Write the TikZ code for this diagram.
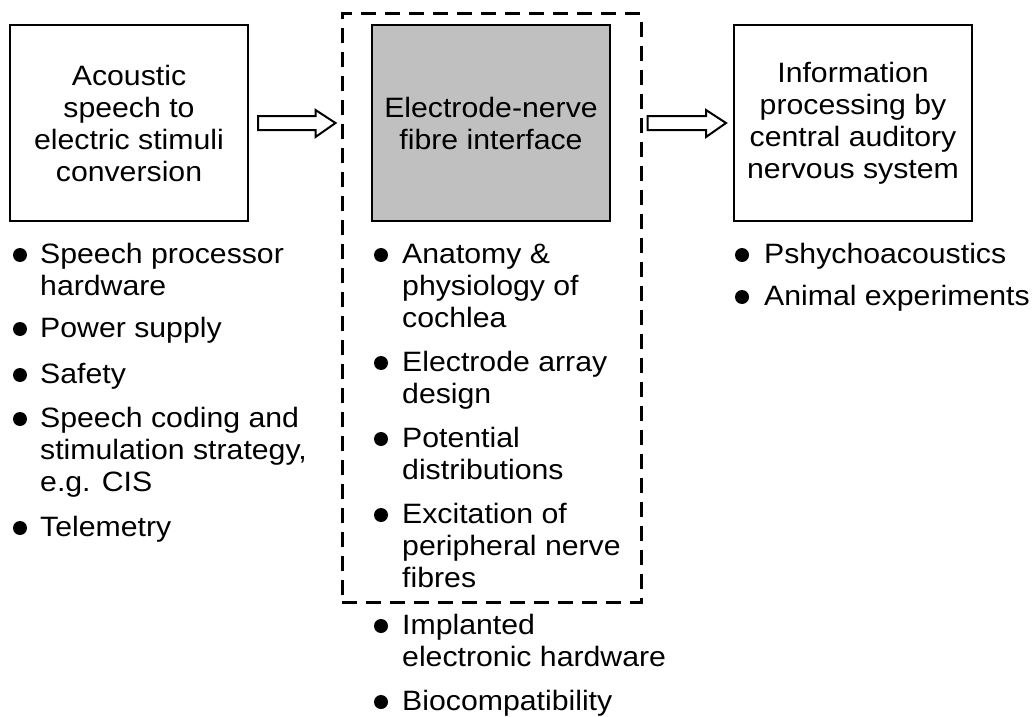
\documentclass[tikz,border=0pt]{standalone}
\usepackage{fontspec}
\setmainfont[FakeStretch=1.08]{Liberation Sans}
\usetikzlibrary{calc}
\begin{document}
\begin{tikzpicture}[x=1pt,y=-1pt,
  box/.style={draw, line width=2pt, minimum width=238pt, minimum height=196pt,
    align=center, inner sep=0pt, font=\fontsize{28}{32}\selectfont},
  item/.style={anchor=base west, align=left, inner sep=0pt,
    font=\fontsize{28}{32}\selectfont},
  dot/.style={fill=black},
  blockarrow/.style={draw, fill=white, line width=2pt, line join=miter}
]
\useasboundingbox (0,0) rectangle (1034,717);

% main boxes
\node[box] (conv) at (129,123) {Acoustic\\speech to\\electric stimuli\\conversion};
\node[box, fill={rgb,255:red,192;green,192;blue,192}] (iface) at (491,123) {Electrode-nerve\\fibre interface};
\node[box] (cns) at (853,123) {Information\\processing by\\central auditory\\nervous system};

% dashed frame
\node[draw, dashed, dash pattern=on 15pt off 9pt, line width=3pt, minimum width=299pt,
  minimum height=588pt, inner sep=0pt] (frame) at (491.5,308) {};

% block arrows
\coordinate (a1s) at ($(conv.east)+(9,0)$);
\coordinate (a1e) at ($(frame.west)+(-5,0)$);
\coordinate (a2s) at ($(frame.east)+(5,0)$);
\coordinate (a2e) at ($(cns.west)+(-7,0)$);
\draw[blockarrow] (a1s |- 0,116) -- ($(a1e |- 0,116)+(-20,0)$) -- ($(a1e |- 0,110)+(-20,0)$)
  -- (a1e |- conv.east) -- ($(a1e |- 0,137)+(-20,0)$) -- ($(a1e |- 0,130)+(-20,0)$)
  -- (a1s |- 0,130) -- cycle;
\draw[blockarrow] (a2s |- 0,116) -- ($(a2e |- 0,116)+(-20,0)$) -- ($(a2e |- 0,110)+(-20,0)$)
  -- (a2e |- cns.west) -- ($(a2e |- 0,137)+(-20,0)$) -- ($(a2e |- 0,130)+(-20,0)$)
  -- (a2s |- 0,130) -- cycle;

% left list (anchor = baseline of last line)
\node[item] (l1) at (40,295) {Speech processor\\hardware};
\node[item] (l2) at (40,337) {Power supply};
\node[item] (l3) at (40,383) {Safety};
\node[item] (l4) at (40,491) {Speech coding and\\stimulation strategy,\\e.g. CIS};
\node[item] (l5) at (40,536) {Telemetry};

% middle list
\node[item] (m1) at (402,327) {Anatomy \&\\physiology of\\cochlea};
\node[item] (m2) at (402,403) {Electrode array\\design};
\node[item] (m3) at (402,479) {Potential\\distributions};
\node[item] (m4) at (402,587) {Excitation of\\peripheral nerve\\fibres};
\node[item] (m5) at (402,666) {Implanted\\electronic hardware};
\node[item] (m6) at (402,710) {Biocompatibility};

% right list
\node[item] (r1) at (764,263) {Pshychoacoustics};
\node[item] (r2) at (764,305) {Animal experiments};

% bullets
\foreach \y in {263,337,383,427,536}{
  \fill[dot] (20,\y-8) circle (7);}
\foreach \y in {263,371,447,523,634,710}{
  \fill[dot] (381,\y-8) circle (7);}
\foreach \y in {263,305}{
  \fill[dot] (742,\y-8) circle (7);}
\end{tikzpicture}
\end{document}
